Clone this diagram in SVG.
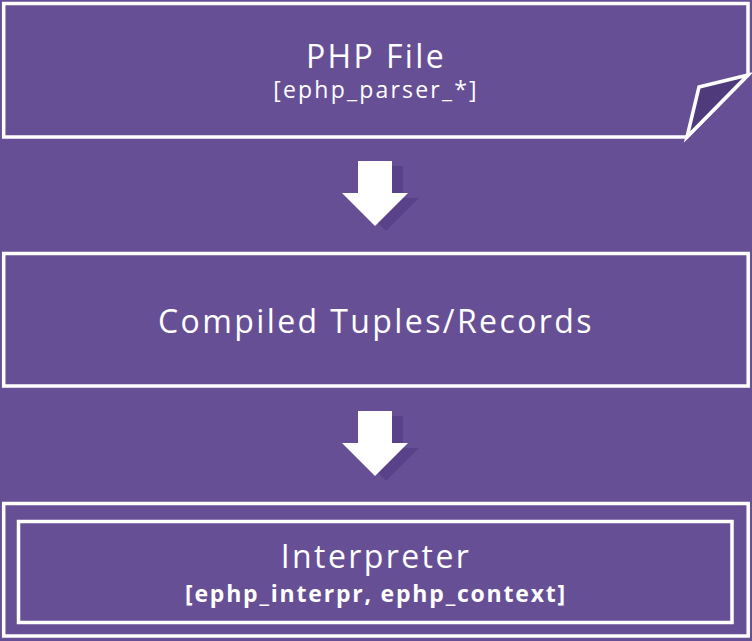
<svg xmlns="http://www.w3.org/2000/svg" width="752" height="641" viewBox="0 0 752 641">
<defs>
<style>
.box{fill:none;stroke:#ffffff;stroke-width:3.5}
.t1{font-family:"Open Sans","Liberation Sans",sans-serif;font-size:32px;letter-spacing:2.4px;fill:#ffffff;text-anchor:middle}
.t2{font-family:"Open Sans","Liberation Sans",sans-serif;font-size:23px;letter-spacing:2.2px;fill:#ffffff;text-anchor:middle}
.t3{font-family:"Open Sans","Liberation Sans",sans-serif;font-size:23px;letter-spacing:1.8px;font-weight:bold;fill:#ffffff;text-anchor:middle}
.arrow{fill:#ffffff}
.shadow{fill:#5a428a}
</style>
<path id="arr" d="M358,161 H392 V193 H408 L375,226 L342,193 H358 Z"/>
</defs>
<rect width="752" height="641" fill="#674f96"/>
<g id="php-file">
<path class="box" d="M3.7,3.5 H748 V75 L687,137 H3.7 Z" stroke-linejoin="miter"/>
<path d="M748,75 L699,87 L687,137 Z" fill="#4f3b7c" stroke="#ffffff" stroke-width="3.5" stroke-linejoin="miter"/>
<text class="t1" x="376" y="68">PHP File</text>
<text class="t2" x="376" y="98">[ephp_parser_*]</text>
</g>
<g id="compiled">
<rect class="box" x="3.7" y="253.5" width="744.5" height="132.5"/>
<text class="t1" x="376" y="333">Compiled Tuples/Records</text>
</g>
<g id="interpreter">
<rect class="box" x="3.7" y="503.5" width="744.5" height="132.5"/>
<rect class="box" x="18.5" y="521.5" width="713.5" height="101"/>
<text class="t1" x="376" y="568">Interpreter</text>
<text class="t3" x="376" y="602">[ephp_interpr, ephp_context]</text>
</g>
<g id="connectors">
<use href="#arr" class="shadow" transform="translate(11,5)"/>
<use href="#arr" class="arrow"/>
<use href="#arr" class="shadow" transform="translate(11,255)"/>
<use href="#arr" class="arrow" transform="translate(0,250)"/>
</g>
</svg>
